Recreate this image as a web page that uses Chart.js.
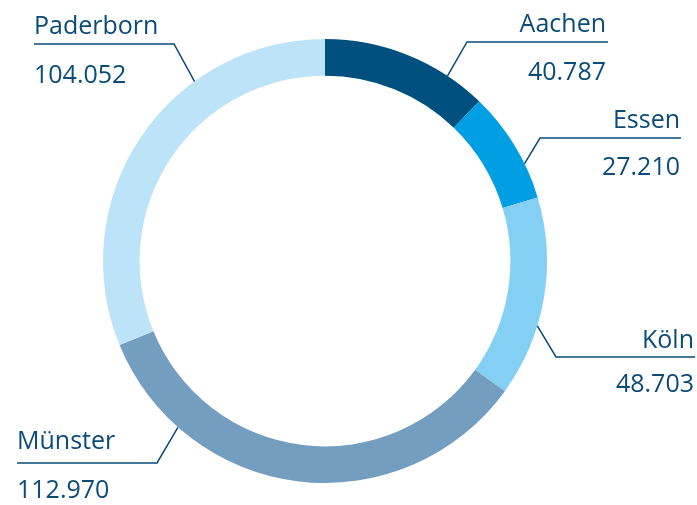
<!DOCTYPE html>
<html>
<head>
<meta charset="utf-8">
<script src="https://cdn.jsdelivr.net/npm/chart.js@4.4.1/dist/chart.umd.min.js"></script>
<style>
  html, body { margin: 0; padding: 0; background: #ffffff; }
  #wrap { width: 697px; height: 505px; }
</style>
</head>
<body>
<div id="wrap"><canvas id="chart"></canvas></div>
<script>
const cities = ['Aachen', 'Essen', 'Köln', 'Münster', 'Paderborn'];
const counts = [40787, 27210, 48703, 112970, 104052];
const sliceColors = ['#00507f', '#009fe3', '#84d0f5', '#739ebf', '#bde3f8'];

// where each callout sits (angle on ring in degrees from top, elbow, text anchor)
const callouts = [
    { angle: 33.5, ex: 467, ey: 42, endX: 608, align: 'right', tx: 606, nameY: 32, valueY: 80 },
    { angle: 64, ex: 540, ey: 138, endX: 681, align: 'right', tx: 680, nameY: 128, valueY: 175 },
    { angle: 107, ex: 556, ey: 357, endX: 695, align: 'right', tx: 694, nameY: 348, valueY: 392 },
    { angle: 221.5, ex: 157, ey: 463, endX: 17, align: 'left', tx: 17, nameY: 449, valueY: 498 },
    { angle: 324, ex: 174, ey: 44, endX: 34, align: 'left', tx: 34, nameY: 34, valueY: 83 },
];

const textColor = '#0a4b78';

function formatDE(n) {
    return String(n).replace(/\B(?=(\d{3})+(?!\d))/g, '.');
}

const calloutPlugin = {
    id: 'callouts',
    afterDraw(chart) {
        const ctx = chart.ctx;
        const meta = chart.getDatasetMeta(0);
        const arc = meta.data[0];
        const cx = arc.x, cy = arc.y, r = arc.outerRadius;

        ctx.save();
        ctx.strokeStyle = textColor;
        ctx.lineWidth = 1.5;
        ctx.fillStyle = textColor;
        ctx.font = '500 25px "Open Sans"';
        ctx.textBaseline = 'alphabetic';

        callouts.forEach((c, i) => {
            const a = c.angle * Math.PI / 180;
            const ax = cx + r * Math.sin(a);
            const ay = cy - r * Math.cos(a);

            ctx.beginPath();
            ctx.moveTo(ax, ay);
            ctx.lineTo(c.ex, c.ey);
            ctx.lineTo(c.endX, c.ey);
            ctx.stroke();

            ctx.textAlign = c.align;
            ctx.fillText(cities[i], c.tx, c.nameY);
            ctx.fillText(formatDE(counts[i]), c.tx, c.valueY);
        });
        ctx.restore();
    }
};

new Chart(document.getElementById('chart'), {
    type: 'doughnut',
    data: {
        labels: cities,
        datasets: [
            {
                data: counts,
                backgroundColor: sliceColors,
                borderWidth: 0,
            },
        ],
    },
    options: {
        responsive: true,
        maintainAspectRatio: false,
        animation: false,
        cutout: '83.5%',
        layout: {
            padding: { left: 103, right: 150, top: 39, bottom: 22 },
        },
        plugins: {
            legend: { display: false },
            tooltip: { enabled: false },
        },
    },
    plugins: [calloutPlugin],
});
</script>
</body>
</html>
